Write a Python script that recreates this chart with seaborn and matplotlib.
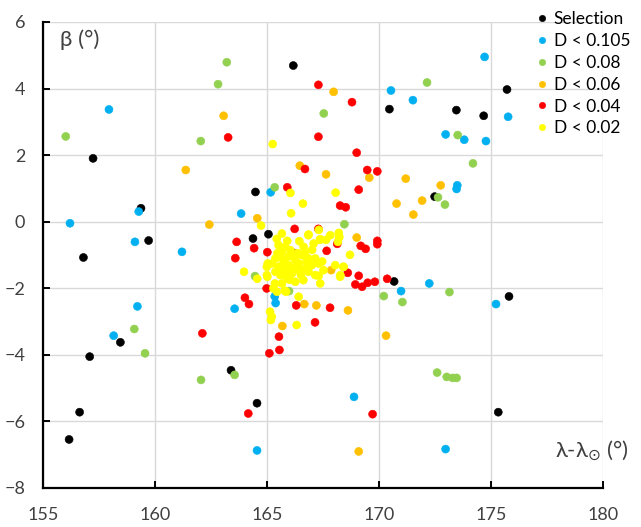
import matplotlib
matplotlib.use("Agg")
import matplotlib.pyplot as plt
import seaborn as sns
import pandas as pd

# ---- data: (λ-λsun, β) pairs per similarity class ----
sel_x = [166.16, 157.22, 159.36, 159.70, 164.47, 164.36, 165.05, 156.79, 158.44, 157.07,
         156.62, 156.15, 163.38, 164.54, 170.45, 173.44, 174.66, 175.70, 172.47, 170.66,
         175.79, 175.31]
sel_y = [4.69, 1.90, 0.40, -0.57, 0.89, -0.51, -0.38, -1.08, -3.63, -4.06,
         -5.73, -6.55, -4.47, -5.46, 3.38, 3.35, 3.18, 3.97, 0.75, -1.80,
         -2.25, -5.73]

d105_x = [157.93, 156.19, 159.26, 159.09, 161.19, 163.83, 165.15, 159.20, 158.14, 163.54,
          164.54, 165.33, 165.37, 174.70, 170.52, 171.50, 175.75, 172.96, 173.79, 174.76,
          173.48, 173.45, 172.23, 170.97, 175.21, 168.87, 172.96]
d105_y = [3.37, -0.05, 0.30, -0.61, -0.91, 0.24, 0.88, -2.55, -3.43, -2.62,
          -6.88, -2.25, -2.45, 4.95, 3.94, 3.65, 3.15, 2.62, 2.46, 2.42,
          1.09, 0.98, -1.86, -2.09, -2.48, -5.27, -6.84]

d08_x = [163.19, 162.80, 156.00, 162.03, 165.33, 168.44, 164.45, 165.97, 159.06, 159.54,
         162.04, 163.54, 172.13, 167.52, 173.50, 174.18, 172.62, 172.93, 170.20, 171.03,
         173.13, 172.58, 173.01, 173.28, 173.45]
d08_y = [4.79, 4.13, 2.56, 2.42, 1.03, -0.08, -1.64, -2.09, -3.23, -3.96,
         -4.76, -4.61, 4.18, 3.25, 2.60, 1.75, 0.73, 0.51, -2.24, -2.42,
         -2.12, -4.54, -4.67, -4.70, -4.70]

d06_x = [163.05, 161.36, 162.41, 164.55, 166.45, 167.96, 167.62, 169.55, 171.18, 172.74,
         170.77, 171.91, 171.52, 168.99, 167.85, 166.65, 167.19, 168.60, 165.67, 170.30,
         169.08]
d06_y = [3.18, 1.55, -0.09, 0.10, 1.68, 3.90, 1.42, 1.32, 1.29, 1.09,
         0.54, 0.63, 0.21, -0.48, -1.46, -2.48, -2.52, -2.67, -3.14, -3.43,
         -6.91]

d04_x = [167.28, 167.28, 163.25, 166.68, 165.89, 166.22, 167.28, 163.63, 164.41, 165.00,
         163.57, 168.78, 168.99, 169.46, 169.91, 169.08, 168.25, 168.50, 167.65, 169.17,
         169.39, 169.91, 169.91, 168.12, 166.16, 166.10, 168.59, 169.08, 168.93, 169.23,
         169.48, 169.80, 164.97, 164.00, 164.18, 166.29, 167.80, 167.13, 165.52, 162.10,
         165.54, 165.09, 164.15, 170.35, 169.70]
d04_y = [4.11, 2.55, 2.53, 1.58, 1.03, -0.22, -0.22, -0.61, -0.80, -0.92,
         -1.10, 3.59, 2.07, 1.55, 1.51, 0.96, 0.48, 0.43, -0.88, -0.73,
         -0.82, -0.58, -0.68, -0.67, -0.94, -1.46, -1.54, -1.63, -1.89, -1.96,
         -1.84, -1.81, -2.01, -2.29, -2.48, -2.52, -2.59, -3.03, -3.46, -3.36,
         -3.86, -3.96, -5.77, -1.72, -5.79]

d02_x = [165.24, 166.03, 166.59, 168.05, 166.06, 164.72, 165.42, 165.89, 166.83, 167.30,
         167.35, 168.19, 168.20, 168.69, 167.62, 163.96, 168.39, 168.25, 167.29, 166.61,
         165.79, 165.27, 165.34, 166.40, 165.12, 165.20, 165.16, 166.31, 165.02, 165.00,
         164.55, 165.84,
         165.65, 166.84, 167.36, 167.81, 168.21, 168.15, 166.43, 165.80, 166.03, 165.65,
         166.62, 166.69, 167.07, 165.36, 165.58, 165.21, 165.73, 165.50, 165.95, 166.25,
         166.40, 166.55, 166.84, 166.99, 167.14, 167.29, 166.69, 166.40, 166.84, 166.10,
         164.98, 164.98, 165.36, 165.58, 165.88, 166.25, 165.65, 165.43, 165.80, 167.51,
         168.03, 168.41, 168.26, 167.14, 167.36, 165.50, 166.17, 165.88,
         165.95, 166.35, 166.75, 167.00, 165.70, 166.15, 166.50, 167.45, 165.45, 166.00]
d02_y = [2.33, 0.86, 0.54, 0.87, 0.25, -0.12, -0.52, -0.58, -0.41, -0.25,
         -0.55, -0.34, -0.48, -1.00, -0.55, -1.51, -1.36, -1.66, -1.63, -1.76,
         -2.08, -2.01, -1.86, -2.26, -2.71, -2.86, -2.96, -3.11, -1.26, -1.66,
         -1.72, -2.11,
         -0.36, -0.39, -0.53, -0.41, -0.46, -0.61, -0.59, -0.76, -0.86, -0.91,
         -0.76, -0.91, -0.66, -1.11, -1.06, -1.26, -1.21, -1.36, -1.31, -1.16,
         -1.26, -1.01, -1.11, -1.31, -1.11, -1.26, -1.41, -1.46, -1.51, -1.56,
         -1.36, -1.61, -1.51, -1.61, -1.71, -1.81, -1.86, -2.11, -2.09, -1.46,
         -1.31, -1.36, -1.61, -1.61, -1.86, -0.71, -1.01, -1.51,
         -1.05, -0.95, -1.20, -0.85, -1.45, -1.40, -1.60, -1.20, -0.95, -1.75]

groups = ["Selection", "D < 0.105", "D < 0.08", "D < 0.06", "D < 0.04", "D < 0.02"]
colors = ["#000000", "#00B0F0", "#92D050", "#FFC000", "#FF0000", "#FFFF00"]
xs = [sel_x, d105_x, d08_x, d06_x, d04_x, d02_x]
ys = [sel_y, d105_y, d08_y, d06_y, d04_y, d02_y]

frames = [pd.DataFrame({"lam": x, "beta": y, "group": g}) for g, x, y in zip(groups, xs, ys)]
df = pd.concat(frames, ignore_index=True)

x_ticks = [155, 160, 165, 170, 175, 180]
y_ticks = [-8, -6, -4, -2, 0, 2, 4, 6]

# ---- figure ----
sns.set_theme(style="white")
plt.rcParams["font.family"] = ["Lato", "DejaVu Sans"]
text_col = "#404040"

fig = plt.figure(figsize=(6.41, 5.27), dpi=100)
ax = fig.add_axes([0.0676, 0.0746, 0.8736, 0.8837])

sns.scatterplot(data=df, x="lam", y="beta", hue="group", hue_order=groups,
                palette=dict(zip(groups, colors)), s=33, linewidth=0.4,
                edgecolor=None, ax=ax, legend=True, zorder=3)
# edges in the same colour as faces
coll = ax.collections[0]
coll.set_edgecolors(coll.get_facecolors())

ax.set_xlim(155, 180)
ax.set_ylim(-8, 6)
ax.set_xticks(x_ticks)
ax.set_yticks(y_ticks)
ax.grid(True, color="#d9d9d9", linewidth=1.0, zorder=0)
ax.set_axisbelow(True)

for side in ["top", "right"]:
    ax.spines[side].set_visible(False)
for side in ["left", "bottom"]:
    ax.spines[side].set_color("black")
    ax.spines[side].set_linewidth(1.6)

ax.tick_params(axis="both", direction="in", length=5, width=1.4, color="black",
               labelsize=13, labelcolor=text_col, left=True, bottom=True)
ax.tick_params(axis="y", pad=13)
ax.tick_params(axis="x", pad=14)

ax.set_xlabel("")
ax.set_ylabel("")
ax.text(0.03, 0.985, "β (°)", transform=ax.transAxes, ha="left", va="top",
        fontsize=16, color=text_col)
ax.text(1.045, 0.08, r"λ-λ$_{\odot}$ (°)", transform=ax.transAxes, ha="right",
        va="center", fontsize=16, color=text_col)

handles, labels = ax.get_legend_handles_labels()
ax.legend(handles, labels, loc="upper left", bbox_to_anchor=(525 / 641, 1 - 4 / 527),
          bbox_transform=fig.transFigure, frameon=False, fontsize=12.5,
          handletextpad=0.05, labelspacing=0.34, markerscale=0.8,
          borderaxespad=0, handlelength=1.2, labelcolor="black")

fig.savefig("out.png", dpi=100)
